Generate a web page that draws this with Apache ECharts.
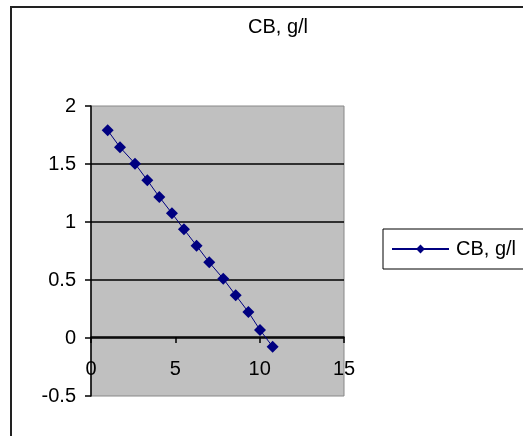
<!DOCTYPE html>
<html>
<head>
<meta charset="utf-8">
<script src="https://cdn.jsdelivr.net/npm/echarts@6/dist/echarts.min.js"></script>
<style>
	html, body { margin: 0; padding: 0; background: #fff; }
	#chart { width: 523px; height: 436px; }
</style>
</head>
<body>
<div id="chart"></div>
<script>
!function(){

	'use strict';

	// values
	var seriesName = 'CB, g/l';
	var timeValues = [0.99, 1.72, 2.61, 3.34, 4.05, 4.80, 5.51, 6.26, 7.01, 7.84, 8.58, 9.33, 10.02, 10.77];
	var cbValues = [1.79, 1.644, 1.503, 1.36, 1.216, 1.075, 0.937, 0.796, 0.652, 0.511, 0.368, 0.224, 0.069, -0.075];
	var xTicks = [0, 5, 10, 15];
	var yTicks = [-0.5, 0, 0.5, 1, 1.5, 2];

	var points = timeValues.map(function(x, i){
		return [x, cbValues[i]];
	});

	var font = 'Liberation Sans';
	var fs = 20;
	var myChart = echarts.init(document.getElementById('chart'));

	myChart.setOption({
		animation: false,
		backgroundColor: '#fff',
		title: {
			text: seriesName,
			left: 273,
			textAlign: 'center',
			top: 12,
			textStyle: { fontFamily: font, fontSize: fs, fontWeight: 'normal', color: '#000' }
		},
		graphic: [{
			type: 'rect',
			shape: { x: 11, y: 7, width: 560, height: 460 },
			style: { fill: 'none', stroke: '#222', lineWidth: 2 },
			silent: true
		}],
		legend: {
			left: 383,
			top: 229,
			orient: 'vertical',
			borderColor: '#000',
			borderWidth: 1,
			padding: [10, 20, 10, 8],
			itemWidth: 57,
			itemHeight: 11,
			itemGap: 0,
			textStyle: { fontFamily: font, fontSize: fs, color: '#000', padding: [0, 0, 0, 2] },
			data: [seriesName]
		},
		grid: {
			left: 91,
			top: 106,
			right: 179,
			bottom: 40,
			show: true,
			backgroundColor: '#c0c0c0',
			borderColor: '#888',
			borderWidth: 1
		},
		xAxis: {
			type: 'value',
			min: xTicks[0],
			max: xTicks[xTicks.length - 1],
			interval: 5,
			// the axis sits on y = 0, as in the picture
			offset: -59,
			axisLine: { onZero: false, lineStyle: { color: '#000', width: 1.5 } },
			axisTick: { show: true, length: 6, inside: false, lineStyle: { color: '#000', width: 1.5 } },
			axisLabel: { margin: 22, fontFamily: font, fontSize: fs, color: '#000' },
			splitLine: { show: false }
		},
		yAxis: {
			type: 'value',
			min: yTicks[0],
			max: yTicks[yTicks.length - 1],
			interval: 0.5,
			axisLine: { show: true, onZero: false, lineStyle: { color: '#000', width: 1.5 } },
			axisTick: { show: true, length: 6, lineStyle: { color: '#000', width: 1.5 } },
			axisLabel: { margin: 15, fontFamily: font, fontSize: fs, color: '#000' },
			splitLine: {
				show: true,
				showMinLine: false,
				showMaxLine: false,
				lineStyle: { color: '#000', width: 1.5 }
			}
		},
		series: [{
			name: seriesName,
			type: 'line',
			data: points,
			symbol: 'diamond',
			symbolSize: 12,
			itemStyle: { color: '#000080' },
			lineStyle: { color: '#000080', width: 1 }
		}]
	});

}()
</script>
</body>
</html>
